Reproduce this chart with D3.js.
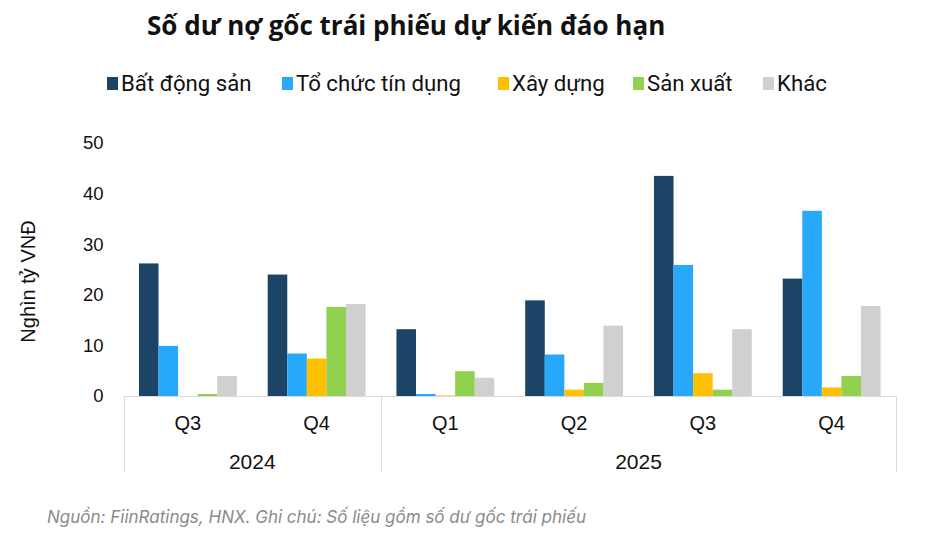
<!DOCTYPE html>
<html>
<head>
<meta charset="utf-8">
<script src="https://cdn.jsdelivr.net/npm/d3@7"></script>
<style>
  body { margin: 0; background: #fff; }
  svg { font-family: "Liberation Sans", Arial, sans-serif; }
</style>
</head>
<body>
<div id="chart"></div>
<script>
// categories and series
var quarters = ["Q3", "Q4", "Q1", "Q2", "Q3", "Q4"];
var years = [
  { label: "2024", from: 0, to: 2 },
  { label: "2025", from: 2, to: 6 }
];
var seriesNames = ["Bất động sản", "Tổ chức tín dụng", "Xây dựng", "Sản xuất", "Khác"];
var seriesColors = ["#1b4466", "#27a8fb", "#ffc000", "#92d050", "#d0d0d0"];

var batDongSan = [26.2, 24.0, 13.2, 18.9, 43.5, 23.2];
var toChucTinDung = [9.9, 8.4, 0.4, 8.2, 25.9, 36.6];
var xayDung = [0, 7.4, 0.1, 1.25, 4.5, 1.7];
var sanXuat = [0.4, 17.6, 4.9, 2.6, 1.25, 3.95];
var khac = [3.95, 18.2, 3.6, 13.9, 13.2, 17.8];
var seriesValues = [batDongSan, toChucTinDung, xayDung, sanXuat, khac];

var yTicks = [0, 10, 20, 30, 40, 50];

var width = 931, height = 557;
var margin = { left: 123.5, right: 35, top: 143, bottom: 161 };

var svg = d3.select("#chart").append("svg")
  .attr("width", width)
  .attr("height", height);

svg.append("rect").attr("width", width).attr("height", height).attr("fill", "#fff");

// title
svg.append("text")
  .attr("x", 147).attr("y", 35)
  .attr("font-family", "'Open Sans', sans-serif")
  .attr("font-size", 26).attr("font-weight", "bold").attr("fill", "#111")
  .text("Số dư nợ gốc trái phiếu dự kiến đáo hạn");

// legend
var legendX = [107, 282, 498, 633, 763];
var legend = svg.append("g");
seriesNames.forEach(function(name, i) {
  var g = legend.append("g").attr("transform", "translate(" + legendX[i] + ",0)");
  g.append("rect").attr("x", 0).attr("y", 77).attr("width", 11).attr("height", 13).attr("fill", seriesColors[i]);
  g.append("text").attr("x", 14).attr("y", 91)
    .attr("font-family", "Roboto, sans-serif")
    .attr("font-size", 22.2).attr("fill", "#111").text(name);
});

var x0 = d3.scaleBand()
  .domain(d3.range(quarters.length))
  .range([margin.left, width - margin.right])
  .paddingInner(0.24).paddingOuter(0.12);

var x1 = d3.scaleBand()
  .domain(d3.range(seriesNames.length))
  .range([0, x0.bandwidth()]);

var y = d3.scaleLinear()
  .domain([0, 50])
  .range([height - margin.bottom, margin.top]);

// y axis labels
var yAxis = svg.append("g")
  .attr("transform", "translate(" + (margin.left - 20) + ",0)")
  .call(d3.axisLeft(y).tickValues(yTicks).tickSize(0).tickPadding(0));
yAxis.select(".domain").remove();
yAxis.selectAll("text").attr("font-size", 18.5).attr("fill", "#111")
  .attr("font-family", "'Liberation Sans', Arial, sans-serif");

svg.append("text")
  .attr("transform", "translate(35," + ((margin.top + height - margin.bottom) / 2 + 12) + ") rotate(-90)")
  .attr("text-anchor", "middle")
  .attr("font-size", 20).attr("fill", "#111")
  .text("Nghìn tỷ VNĐ");

// bars
var groups = svg.append("g").selectAll("g")
  .data(quarters.map(function(q, i) { return i; }))
  .enter().append("g")
  .attr("transform", function(i) { return "translate(" + x0(i) + ",0)"; });

groups.selectAll("rect")
  .data(function(i) { return seriesValues.map(function(s, k) { return { k: k, v: s[i] }; }); })
  .enter().append("rect")
  .attr("x", function(d) { return x1(d.k); })
  .attr("width", x1.bandwidth())
  .attr("y", function(d) { return y(d.v); })
  .attr("height", function(d) { return y(0) - y(d.v); })
  .attr("fill", function(d) { return seriesColors[d.k]; });

// category axis
var axisColor = "#d9d9d9";
var base = y(0);
var left = margin.left, right = width - margin.right;
svg.append("line")
  .attr("x1", left).attr("x2", right).attr("y1", base + 0.5).attr("y2", base + 0.5)
  .attr("stroke", axisColor).attr("stroke-width", 1);

var bounds = [0, 2, 6];
bounds.forEach(function(b) {
  var xx = Math.round(left + b * (right - left) / quarters.length) + 0.5;
  svg.append("line")
    .attr("x1", xx).attr("x2", xx).attr("y1", base).attr("y2", 472)
    .attr("stroke", axisColor).attr("stroke-width", 1);
});

svg.append("g").selectAll("text")
  .data(quarters)
  .enter().append("text")
  .attr("x", function(q, i) { return x0(i) + x0.bandwidth() / 2; })
  .attr("y", 430)
  .attr("text-anchor", "middle")
  .attr("font-size", 20).attr("fill", "#111")
  .text(function(q) { return q; });

svg.append("g").selectAll("text")
  .data(years)
  .enter().append("text")
  .attr("x", function(d) { return left + (d.from + d.to) / 2 * (right - left) / quarters.length; })
  .attr("y", 469)
  .attr("text-anchor", "middle")
  .attr("font-size", 21).attr("fill", "#111")
  .text(function(d) { return d.label; });

// source note
svg.append("text")
  .attr("x", 47).attr("y", 523)
  .attr("font-family", "Inter, sans-serif")
  .attr("font-size", 17).attr("font-style", "italic").attr("fill", "#8a8a8a")
  .text("Nguồn: FiinRatings, HNX. Ghi chú: Số liệu gồm số dư gốc trái phiếu");
</script>
</body>
</html>
